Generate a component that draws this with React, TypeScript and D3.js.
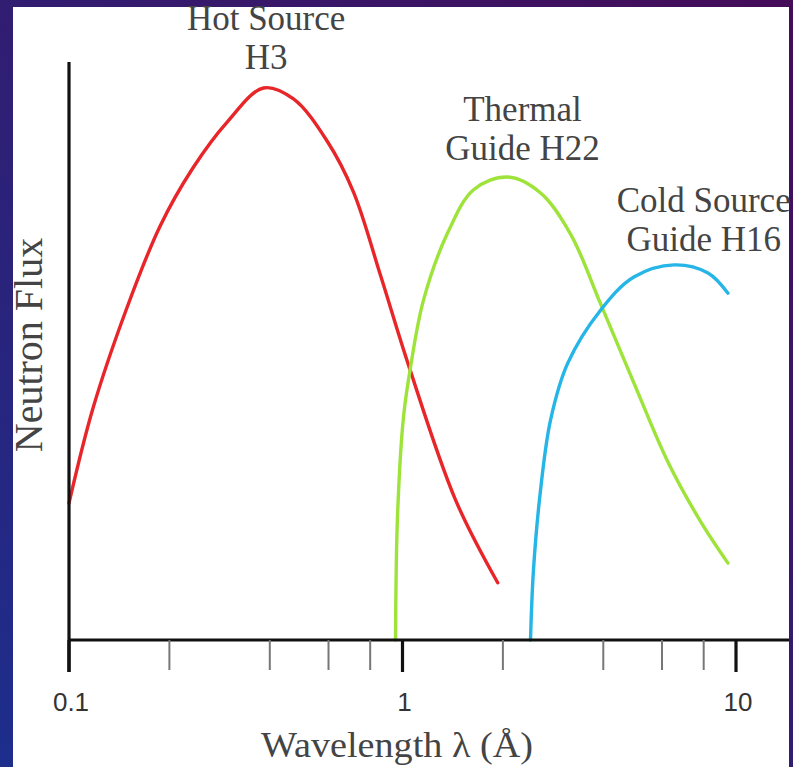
import React from 'react';
import * as d3 from 'd3';

// wavelength (Å) vs neutron flux (arbitrary units 0–100)
const hotLambda = [0.1, 0.118, 0.149, 0.1875, 0.2355, 0.298, 0.383, 0.471, 0.596, 0.713, 0.859, 1.042, 1.443, 1.93];
const hotFlux = [23.7, 40.1, 57.4, 71.6, 81.7, 89.6, 95.5, 93.6, 86.2, 77.5, 63.1, 47.6, 24.2, 9.9];

const thermalLambda = [0.953, 0.966, 1.007, 1.057, 1.156, 1.365, 1.634, 2.07, 2.6, 3.2, 3.93, 4.94, 6.25, 7.85, 9.46];
const thermalFlux = [0, 21.3, 38.6, 47.2, 58.8, 70.4, 77.9, 80.1, 77.3, 70.1, 58.1, 44.5, 30.8, 20.4, 13.3];

const coldLambda = [2.42, 2.47, 2.6, 2.78, 3.13, 3.93, 4.94, 6.52, 8.24, 9.46];
const coldFlux = [0, 12.1, 26.5, 38.1, 47.9, 57.1, 62.8, 64.9, 63.5, 60.0];

const majorTicks = [0.1, 1, 10];
const majorLabels = ['0.1', '1', '10'];
const minorTicks = [0.2, 0.4, 0.6, 0.8, 2, 4, 6, 8];

const seriesLabels = [
  { lines: ['Hot Source', 'H3'], at: 0.39, flux: 105.6 },
  { lines: ['Thermal', 'Guide H22'], at: 2.29, flux: 89.8 },
  { lines: ['Cold Source', 'Guide H16'], at: 8.0, flux: 74.0 },
];

const W = 793;
const H = 767;
const panel = { left: 13, top: 7, right: 789 };
const plot = { left: 69, top: 62, bottom: 640, decadeEnd: 736 };

export default function App() {
  const x = d3.scaleLog().domain([0.1, 10]).range([plot.left, plot.decadeEnd]);
  const y = d3.scaleLinear().domain([0, 100]).range([plot.bottom, plot.top]);

  const line = d3.line<[number, number]>()
    .x(d => x(d[0]))
    .y(d => y(d[1]))
    .curve(d3.curveCatmullRom.alpha(0.5));

  const series = [
    { lam: hotLambda, flux: hotFlux, color: '#e8262a' },
    { lam: thermalLambda, flux: thermalFlux, color: '#9de33a' },
    { lam: coldLambda, flux: coldFlux, color: '#25b5e6' },
  ];

  const serif = '"Liberation Serif", "DejaVu Serif", serif';
  const sans = '"Liberation Sans", Arial, sans-serif';

  return (
    <svg width={W} height={H} style={{ position: 'absolute', left: 0, top: 0 }}>
      <defs>
        <linearGradient id="bg" x1="1" y1="0" x2="0" y2="1">
          <stop offset="0%" stopColor="#450c58" />
          <stop offset="100%" stopColor="#1d2e8c" />
        </linearGradient>
      </defs>
      <rect width={W} height={H} fill="url(#bg)" />
      <rect x={panel.left} y={panel.top} width={panel.right - panel.left} height={H - panel.top} fill="#fff" />

      {/* curves */}
      {series.map((s, i) => (
        <path
          key={i}
          d={line(s.lam.map((l, j) => [l, s.flux[j]] as [number, number])) || ''}
          fill="none"
          stroke={s.color}
          strokeWidth={3.4}
          strokeLinecap="round"
        />
      ))}

      {/* axes */}
      <line x1={plot.left} x2={plot.left} y1={plot.top} y2={plot.bottom + 32} stroke="#111" strokeWidth={3.2} />
      <line x1={plot.left} x2={panel.right} y1={plot.bottom} y2={plot.bottom} stroke="#111" strokeWidth={3.2} />
      {minorTicks.map(t => (
        <line key={t} x1={x(t)} x2={x(t)} y1={plot.bottom} y2={plot.bottom + 30} stroke="#777" strokeWidth={2} />
      ))}
      {majorTicks.map(t => (
        <line key={t} x1={x(t)} x2={x(t)} y1={plot.bottom} y2={plot.bottom + 32} stroke="#111" strokeWidth={3.2} />
      ))}
      {majorTicks.map((t, i) => (
        <text key={t} x={x(t) + 2} y={plot.bottom + 71} textAnchor="middle" fontFamily={sans} fontSize={26} fill="#333">
          {majorLabels[i]}
        </text>
      ))}

      <text
        x={397}
        y={757}
        textAnchor="middle"
        fontFamily={serif}
        fontSize={35}
        fill="#444"
        textLength={272}
        lengthAdjust="spacingAndGlyphs"
      >
        Wavelength λ (Å)
      </text>
      <text
        transform={`translate(42,${(plot.top + plot.bottom) / 2 - 6}) rotate(-90)`}
        textAnchor="middle"
        fontFamily={serif}
        fontSize={40}
        fill="#444"
      >
        Neutron Flux
      </text>

      {/* series labels */}
      {seriesLabels.map((lab, i) => (
        <text key={i} x={x(lab.at)} y={y(lab.flux)} textAnchor="middle" fontFamily={serif} fontSize={35} fill="#444">
          {lab.lines.map((ln, k) => (
            <tspan key={k} x={x(lab.at)} dy={k === 0 ? 0 : 39}>{ln}</tspan>
          ))}
        </text>
      ))}
    </svg>
  );
}
